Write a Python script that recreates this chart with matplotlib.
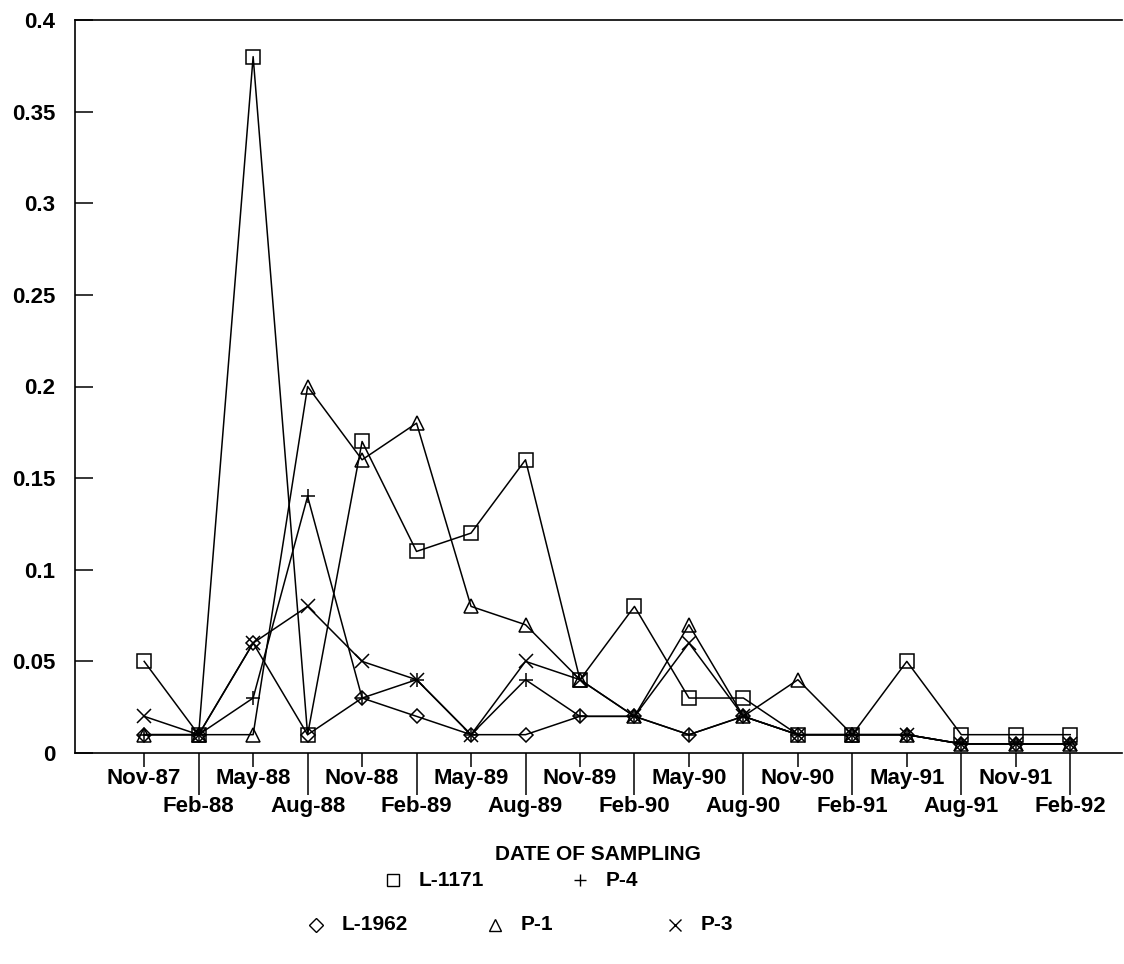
import matplotlib.pyplot as plt
from matplotlib.lines import Line2D
from matplotlib.ticker import MultipleLocator, FuncFormatter

plt.rcParams['font.family'] = ['Liberation Sans', 'DejaVu Sans']
plt.rcParams['font.weight'] = 'bold'

# sampling dates (quarterly)
dates = ["Nov-87", "Feb-88", "May-88", "Aug-88", "Nov-88", "Feb-89",
         "May-89", "Aug-89", "Nov-89", "Feb-90", "May-90", "Aug-90",
         "Nov-90", "Feb-91", "May-91", "Aug-91", "Nov-91", "Feb-92"]

# concentrations
l1171 = [0.05, 0.01, 0.38, 0.01, 0.17, 0.11, 0.12, 0.16, 0.04, 0.08,
         0.03, 0.03, 0.01, 0.01, 0.05, 0.01, 0.01, 0.01]
l1962 = [0.01, 0.01, 0.06, 0.01, 0.03, 0.02, 0.01, 0.01, 0.02, 0.02,
         0.01, 0.02, 0.01, 0.01, 0.01, 0.005, 0.005, 0.005]
p1 = [0.01, 0.01, 0.01, 0.20, 0.16, 0.18, 0.08, 0.07, 0.04, 0.02,
      0.07, 0.02, 0.04, 0.01, 0.01, 0.005, 0.005, 0.005]
p3 = [0.02, 0.01, 0.06, 0.08, 0.05, 0.04, 0.01, 0.05, 0.04, 0.02,
      0.06, 0.02, 0.01, 0.01, 0.01, 0.005, 0.005, 0.005]
p4 = [0.01, 0.01, 0.03, 0.14, 0.03, 0.04, 0.01, 0.04, 0.02, 0.02,
      0.01, 0.02, 0.01, 0.01, 0.01, 0.005, 0.005, 0.005]

series = [
    ("L-1171", l1171, 's', 10),
    ("L-1962", l1962, 'D', 7),
    ("P-1", p1, '^', 10),
    ("P-3", p3, 'x', 10),
    ("P-4", p4, '+', 10),
]

W, H = 1124, 964
fig = plt.figure(figsize=(W / 100, H / 100), dpi=100)
ax = fig.add_axes([75 / W, 1 - 753 / H, (1122 - 75) / W, (753 - 20) / H])

x = list(range(len(dates)))
for name, vals, mk, ms in series:
    ax.plot(x, vals, color='black', lw=1.1, marker=mk, ms=ms,
            mfc='none', mec='black', mew=1.1)

ax.set_xlim(-1.27, 17.95)
ax.set_ylim(0, 0.4)
ax.spines['right'].set_visible(False)
for s in ['left', 'top', 'bottom']:
    ax.spines[s].set_linewidth(1.2)

# staggered date labels: even ones on first row, odd ones lower with long ticks
ax.set_xticks(x[::2])
ax.set_xticklabels(dates[::2])
ax.set_xticks(x[1::2], minor=True)
ax.set_xticklabels(dates[1::2], minor=True)
ax.tick_params(axis='x', which='major', direction='out', length=10,
               width=1.1, pad=1, labelsize=16)
ax.tick_params(axis='x', which='minor', direction='out', length=30,
               width=1.1, pad=1, labelsize=16)

ax.yaxis.set_major_locator(MultipleLocator(0.05))
ax.yaxis.set_major_formatter(FuncFormatter(lambda v, p: f"{v:g}"))
ax.tick_params(axis='y', direction='in', length=13, width=1.1, pad=14,
               labelsize=16)

fig.text(598 / W, 1 - 855 / H, "DATE OF SAMPLING", ha='center', va='center',
         fontsize=15)

# legend laid out like the original (two rows)
legend_pos = {
    "L-1171": (393, 880), "P-4": (580, 880),
    "L-1962": (316, 925), "P-1": (495, 925), "P-3": (675, 925),
}
for name, vals, mk, ms in series:
    px, py = legend_pos[name]
    fig.add_artist(Line2D([px / W], [1 - py / H], transform=fig.transFigure,
                          marker=mk, ls='none', ms=9 if mk != 'D' else 7,
                          mfc='none', mec='black', mew=1.0))
    fig.text((px + 26) / W, 1 - py / H, name, ha='left', va='center',
             fontsize=15)

fig.savefig("out.png", dpi=100)
